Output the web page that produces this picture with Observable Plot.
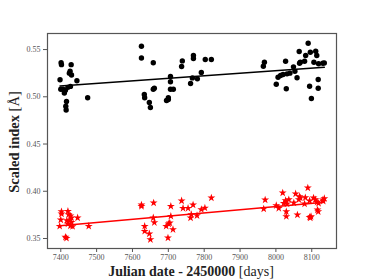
<!DOCTYPE html>
<html><head><meta charset="utf-8">
<script src="https://cdn.jsdelivr.net/npm/d3@7"></script>
<script src="https://cdn.jsdelivr.net/npm/@observablehq/plot@0.6"></script>
<style>body{margin:0;background:#fff}svg{display:block}</style>
</head><body><div id="chart"></div>
<script>
const blackX = [7401,7402,7429,7398,7426,7424,7430,7445,7400,7406,7410,7413,7420,7427,7416,7414,7415,7475,
  7625,7625,7658,7633,7634,7647,7650,7661,7658,7695,7700,7700,7706,7706,7706,7714,7739,7737,7770,7770,7803,7820,7792,7767,7781,7762,
  7968,7965,8027,8065,8083,8080,8090,8096,8111,8114,8106,8119,8131,8135,8068,8066,8049,8053,8059,8006,8013,8020,8031,8039,8001,8029,8094,8118,8118,8099];
const blackY = [0.536,0.534,0.534,0.518,0.527,0.525,0.523,0.517,0.508,0.508,0.504,0.507,0.510,0.511,0.495,0.490,0.486,0.499,
  0.5535,0.541,0.536,0.5025,0.499,0.494,0.4887,0.509,0.508,0.496,0.497,0.499,0.5215,0.516,0.508,0.508,0.538,0.532,0.5437,0.5405,0.5394,0.5394,0.5257,0.520,0.519,0.514,
  0.5366,0.5323,0.5376,0.5479,0.5437,0.5376,0.5567,0.5471,0.5482,0.5437,0.5366,0.5349,0.5355,0.5359,0.5366,0.5355,0.5317,0.5271,0.5201,0.5207,0.5225,0.5236,0.5243,0.525,0.5133,0.5085,0.5112,0.5183,0.5091,0.4982];
const redX = [7402,7402,7400,7397,7420,7422,7427,7430,7417,7424,7430,7420,7427,7433,7447,7478,7413,7416,
  7625,7625,7659,7634,7634,7647,7650,7658,7661,7694,7701,7704,7699,7707,7707,7713,7737,7741,7755,7769,7764,7780,7792,7802,7820,7762,
  7970,7966,8019,8001,8008,8027,8022,8036,8031,8029,8029,8050,8055,8066,8064,8068,8082,8080,8089,8094,8105,8110,8115,8119,8060,8094,8096,8098,8116,8118,8131,8135,8132];
const redY = [0.3785,0.3761,0.3698,0.363,0.3789,0.3754,0.374,0.3719,0.369,0.369,0.3672,0.3655,0.3634,0.3627,0.3719,0.363,0.3514,0.3503,
  0.3856,0.3841,0.3877,0.363,0.3577,0.355,0.3489,0.3719,0.3669,0.363,0.3655,0.3666,0.3507,0.3841,0.3736,0.3595,0.3899,0.382,0.382,0.3856,0.3754,0.3743,0.3807,0.3823,0.393,0.3719,
  0.3909,0.3814,0.3983,0.3849,0.382,0.3902,0.3873,0.3912,0.3867,0.3785,0.3733,0.3877,0.3973,0.3944,0.3912,0.393,0.3933,0.3867,0.4036,0.3899,0.393,0.3912,0.3884,0.3873,0.375,0.3725,0.3719,0.3733,0.3803,0.3785,0.3909,0.3923,0.3895];
const fitX = [7398, 8135];
const fitBlack = [0.5115, 0.5313];
const fitRed = [0.3634, 0.3884];
const xTicks = [7400,7500,7600,7700,7800,7900,8000,8100];
const yTicks = [0.35,0.40,0.45,0.50,0.55];

const black = blackX.map((x,i)=>({x, y: blackY[i]}));
const red = redX.map((x,i)=>({x, y: redY[i]}));
const lineB = fitX.map((x,i)=>({x, y: fitBlack[i]}));
const lineR = fitX.map((x,i)=>({x, y: fitRed[i]}));

const serif = "'Liberation Serif', 'DejaVu Serif', serif";
const chart = Plot.plot({
  width: 374, height: 280,
  marginLeft: 47, marginRight: 38, marginTop: 33, marginBottom: 32,
  style: {fontFamily: serif, fontSize: "8px", color: "#555", background: "#fff"},
  x: {domain: [7363, 8169], ticks: xTicks, tickFormat: d3.format("d"), label: null},
  y: {domain: [0.3394, 0.567], ticks: yTicks, tickFormat: d3.format(".2f"), label: null},
  marks: [
    Plot.frame({stroke: "#555", strokeWidth: 1.2}),
    Plot.axisX({ticks: xTicks, tickFormat: d3.format("d"), tickSize: 4, tickPadding: 2, label: null, stroke: "#555"}),
    Plot.axisY({ticks: yTicks, tickFormat: d3.format(".2f"), tickSize: 4, tickPadding: 3, label: null, stroke: "#555"}),
    Plot.line(lineB, {x: "x", y: "y", stroke: "black", strokeWidth: 1.5}),
    Plot.line(lineR, {x: "x", y: "y", stroke: "red", strokeWidth: 1.5}),
    Plot.dot(black, {x: "x", y: "y", r: 2.7, fill: "black"}),
    Plot.dot(red, {x: "x", y: "y", r: 2.5, symbol: "star", fill: "red"})
  ]
});
const svg = d3.select(chart);
const xl = svg.append("text").attr("x", 191).attr("y", 276).attr("text-anchor", "middle")
  .attr("font-family", serif).attr("font-size", "14px").attr("fill", "#222");
xl.append("tspan").attr("font-weight", "bold").text("Julian date - 2450000 ");
xl.append("tspan").text("[days]");
const yl = svg.append("text").attr("transform", "translate(19,142) rotate(-90)").attr("text-anchor", "middle")
  .attr("font-family", serif).attr("font-size", "14.5px").attr("fill", "#222");
yl.append("tspan").attr("font-weight", "bold").text("Scaled index ");
yl.append("tspan").text("[Å]");
document.getElementById("chart").appendChild(chart);
</script></body></html>
